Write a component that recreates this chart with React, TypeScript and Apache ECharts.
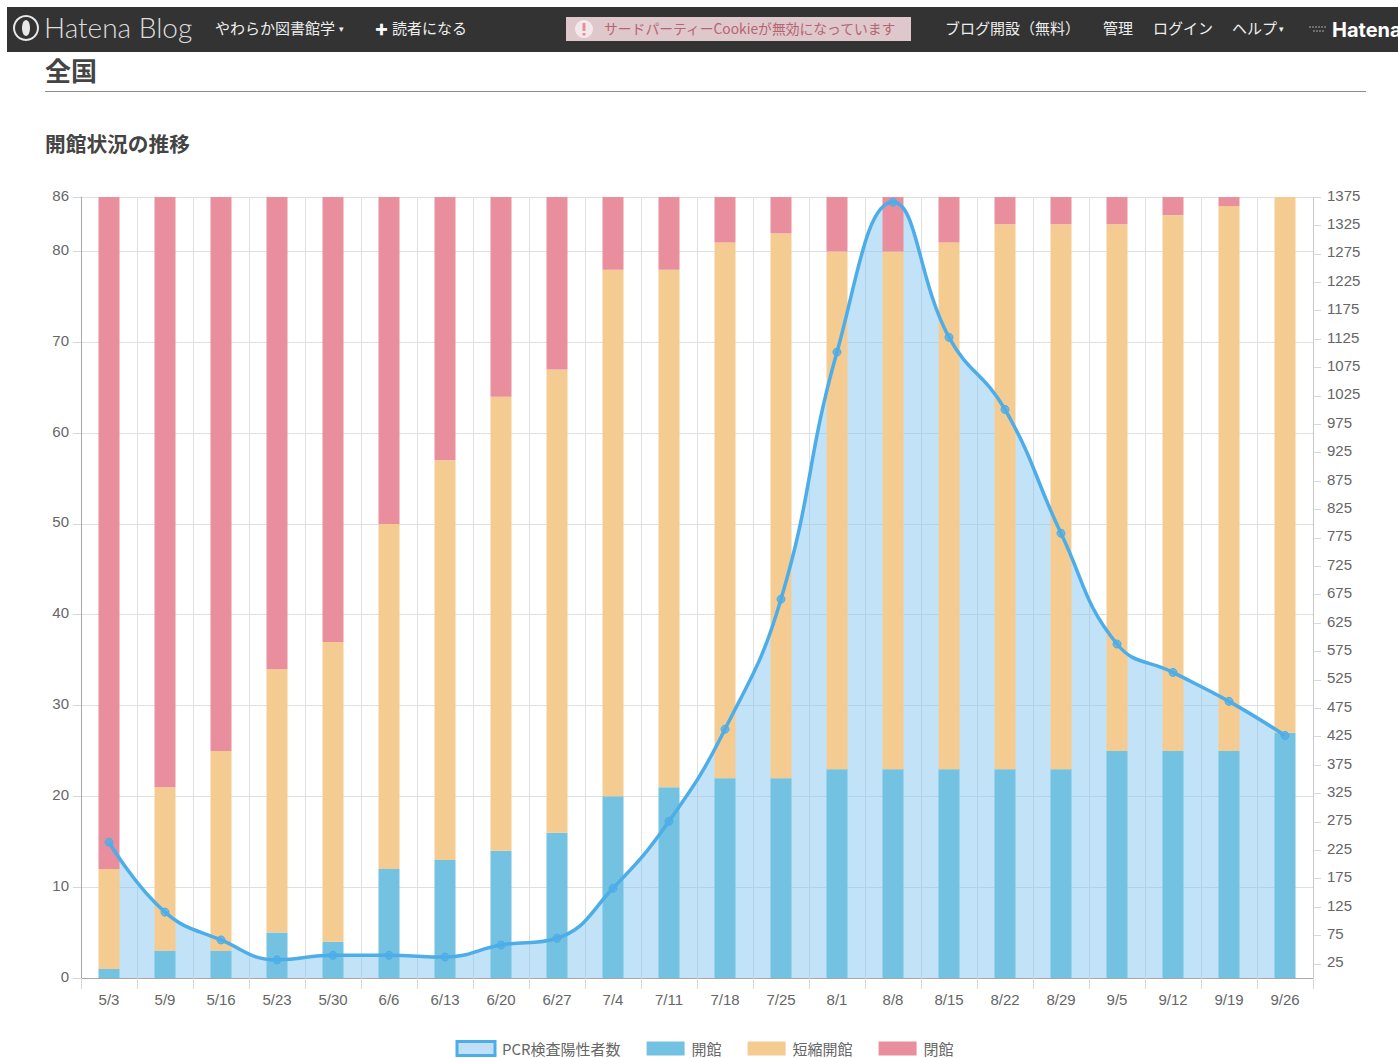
import React, { useEffect, useRef } from "react";
import * as echarts from "echarts";

const categories = ["5/3","5/9","5/16","5/23","5/30","6/6","6/13","6/20","6/27","7/4","7/11","7/18","7/25","8/1","8/8","8/15","8/22","8/29","9/5","9/12","9/19","9/26"];
const openLibs = [1,3,3,5,4,12,13,14,16,20,21,22,22,23,23,23,23,23,25,25,25,27];
const shortLibs = [11,18,22,29,33,38,44,50,51,58,57,59,60,57,57,58,60,60,58,59,60,59];
const closedLibs = [74,65,61,52,49,36,29,22,19,8,8,5,4,6,6,5,3,3,3,2,1,0];
const pcrPositive = [239,116,67,32,40,40,37,58,70,158,276,438,667,1102,1366,1128,1001,783,588,538,487,427];
const rightTicks = [25,75,125,175,225,275,325,375,425,475,525,575,625,675,725,775,825,875,925,975,1025,1075,1125,1175,1225,1275,1325,1375];

const PCR = "PCR検査陽性者数";
const OPEN = "開館";
const SHORT = "短縮開館";
const CLOSED = "閉館";

const JP = '"Noto Sans CJK JP", sans-serif';
const LAT = '"Liberation Sans", Arial, sans-serif';
const BLUE = "#4dade8";
const COL_OPEN = "#74c2e1";
const COL_SHORT = "#f4cb90";
const COL_CLOSED = "#e98e9c";
const AXIS = "#a8a8a8";
const GRID = "#e0e0e0";

function txt(text: string, x: number, y: number, size: number, fill: string, weight: any = "normal", family = JP) {
  return { type: "text", x, y, silent: true, style: { text, fontSize: size, fontWeight: weight, fontFamily: family, fill, textVerticalAlign: "middle", textAlign: "left" } };
}

export default function App() {
  const ref = useRef<HTMLDivElement>(null);
  useEffect(() => {
    const chart = echarts.init(ref.current!, undefined, { renderer: "svg" });
    const bar = (name: string, data: number[], color: string) => ({
      name, type: "bar", stack: "status", yAxisIndex: 0, data, barWidth: 21, z: 2, itemStyle: { color },
    });
    chart.setOption({
      animation: false,
      backgroundColor: "#fff",
      textStyle: { fontFamily: LAT },
      grid: { left: 81, top: 197, width: 1232, height: 781, containLabel: false },
      legend: {
        left: 455.5, top: 1040, padding: 0, itemWidth: 38, itemHeight: 14, itemGap: 26, selectedMode: false,
        textStyle: { fontFamily: JP, fontSize: 15, color: "#666", lineHeight: 14, padding: [0, 0, 3, 2] },
        data: [
          { name: PCR, icon: "rect", itemStyle: { color: "#bfe0f6", borderColor: BLUE, borderWidth: 3 } },
          { name: OPEN, icon: "rect", itemStyle: { color: COL_OPEN } },
          { name: SHORT, icon: "rect", itemStyle: { color: COL_SHORT } },
          { name: CLOSED, icon: "rect", itemStyle: { color: COL_CLOSED } },
        ],
      },
      xAxis: {
        type: "category", data: categories, boundaryGap: true,
        axisLine: { show: true, lineStyle: { color: AXIS } },
        axisTick: { show: true, length: 11, alignWithLabel: false, lineStyle: { color: "#d8d8d8" } },
        axisLabel: { show: true, interval: 0, color: "#666", fontSize: 15, fontFamily: LAT, margin: 14 },
        splitLine: { show: true, interval: 0, lineStyle: { color: GRID } },
      },
      yAxis: [
        {
          type: "value", min: 0, max: 86, interval: 10, position: "left",
          axisLine: { show: true, lineStyle: { color: AXIS } },
          axisTick: { show: true, length: 8, lineStyle: { color: "#d8d8d8" } },
          axisLabel: { color: "#666", fontSize: 15, fontFamily: LAT, margin: 12, showMaxLabel: true, verticalAlign: "bottom", lineHeight: 4 },
          splitLine: { show: true, lineStyle: { color: GRID } },
        },
        {
          type: "value", min: 0, max: 1375, interval: 25, position: "right",
          axisLine: { show: true, lineStyle: { color: "#c8c8c8" } },
          axisTick: { show: true, length: 8, customValues: rightTicks, lineStyle: { color: "#d8d8d8" } },
          axisLabel: { color: "#666", fontSize: 15, fontFamily: LAT, margin: 14, customValues: rightTicks, formatter: (v: number) => String(v), verticalAlign: "bottom", lineHeight: 4 },
          splitLine: { show: false },
        },
      ],
      series: [
        { name: PCR, type: "bar", stack: "status", yAxisIndex: 0, data: [], barWidth: 21, z: 2, itemStyle: { color: "#bfe0f6" } },
        {
          name: PCR, type: "line", yAxisIndex: 1, data: pcrPositive, smooth: 0.45, z: 1,
          showSymbol: false, symbol: "none", lineStyle: { width: 0 }, areaStyle: { color: "rgba(128,194,238,0.48)", opacity: 1 },
        },
        bar(OPEN, openLibs, COL_OPEN),
        bar(SHORT, shortLibs, COL_SHORT),
        bar(CLOSED, closedLibs, COL_CLOSED),
        {
          name: PCR, type: "line", yAxisIndex: 1, data: pcrPositive, smooth: 0.45, z: 3,
          showSymbol: true, symbol: "circle", symbolSize: 8,
          lineStyle: { width: 3.5, color: BLUE }, itemStyle: { color: "rgba(77,173,232,0.75)", borderColor: BLUE, borderWidth: 1 },
        },
      ],
      graphic: [
        { type: "rect", x: 7, y: 7, silent: true, shape: { width: 1391, height: 45 }, style: { fill: "#333333" }, z: 10 },
        { type: "ring", x: 26, y: 28, silent: true, shape: { r: 13, r0: 11 }, style: { fill: "#e8e8e8" }, z: 11 },
        { type: "ellipse", x: 26, y: 28, silent: true, shape: { rx: 4, ry: 8 }, style: { fill: "#e8e8e8" }, z: 11 },
        { ...txt("Hatena Blog", 44, 27, 28, "#dddddd", 300, '"Lato", sans-serif'), z: 11 },
        { ...txt("やわらか図書館学", 215, 27, 15, "#eeeeee"), z: 11 },
        { ...txt("▾", 339, 28, 9, "#eeeeee"), z: 11 },
        { ...txt("✚", 375, 28, 13, "#ffffff", "bold"), z: 11 },
        { ...txt("読者になる", 392, 27, 15, "#eeeeee"), z: 11 },
        { type: "rect", x: 566, y: 17, silent: true, shape: { width: 345, height: 24 }, style: { fill: "#dfc8cb" }, z: 11 },
        { type: "circle", x: 584, y: 29, silent: true, shape: { r: 9 }, style: { fill: "#f3e8ea" }, z: 12 },
        { type: "rect", x: 582.5, y: 23, silent: true, shape: { width: 3, height: 8 }, style: { fill: "#e98e9c" }, z: 13 },
        { type: "rect", x: 582.5, y: 33, silent: true, shape: { width: 3, height: 2.5 }, style: { fill: "#e98e9c" }, z: 13 },
        { ...txt("サードパーティーCookieが無効になっています", 604, 28, 13.8, "#b56472"), z: 12 },
        { ...txt("ブログ開設（無料）", 945, 27, 15, "#eeeeee"), z: 11 },
        { ...txt("管理", 1103, 27, 15, "#eeeeee"), z: 11 },
        { ...txt("ログイン", 1153, 27, 15, "#eeeeee"), z: 11 },
        { ...txt("ヘルプ", 1232, 27, 15, "#eeeeee"), z: 11 },
        { ...txt("▾", 1279, 28, 9, "#eeeeee"), z: 11 },
        { type: "line", silent: true, shape: { x1: 1309, y1: 27, x2: 1327, y2: 27 }, style: { stroke: "#aaa", lineWidth: 1, lineDash: [2, 1] }, z: 11 },
        { type: "line", silent: true, shape: { x1: 1313, y1: 31, x2: 1324, y2: 31 }, style: { stroke: "#aaa", lineWidth: 1, lineDash: [2, 1] }, z: 11 },
        { ...txt("Hatena", 1332, 30, 20, "#ffffff", "bold", '"Inter", sans-serif'), z: 11 },
        { ...txt("全国", 45, 69, 26, "#444444", "bold"), z: 11 },
        { type: "line", silent: true, shape: { x1: 45, y1: 91.5, x2: 1366, y2: 91.5 }, style: { stroke: "#8c8c8c", lineWidth: 1 }, z: 11 },
        { ...txt("開館状況の推移", 45, 143, 20.7, "#444444", "bold"), z: 11 },
      ],
    });
    return () => chart.dispose();
  }, []);
  return <div ref={ref} style={{ position: "absolute", left: 0, top: 0, width: 1398, height: 1058, overflow: "hidden" }} />;
}
